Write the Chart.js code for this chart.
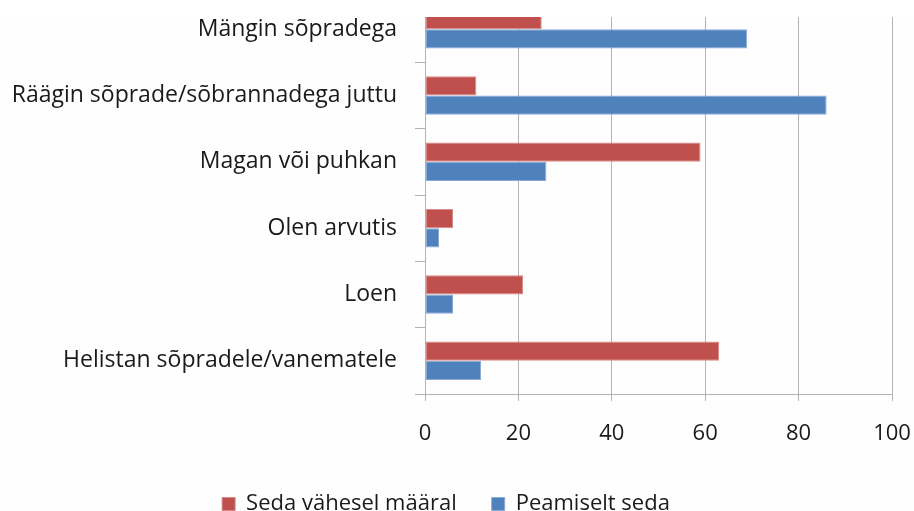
<!DOCTYPE html>
<html>
<head>
<meta charset="utf-8">
<script src="https://cdn.jsdelivr.net/npm/chart.js@4"></script>
<style>
  html, body { margin: 0; padding: 0; width: 914px; height: 511px; overflow: hidden; background: #fefefe; }
  #wrap { position: absolute; left: 0; top: -21px; width: 914px; height: 546px; }
  #topmask { position: absolute; left: 0; top: 0; width: 914px; height: 17px; background: #ffffff; z-index: 2; }
</style>
</head>
<body>
<div id="topmask"></div>
<div id="wrap"><canvas id="c"></canvas></div>
<script>
const categories = [
  "Mängin sõpradega",
  "Räägin sõprade/sõbrannadega juttu",
  "Magan või puhkan",
  "Olen arvutis",
  "Loen",
  "Helistan sõpradele/vanematele"
];
const seriesNames = ["Seda vähesel määral", "Peamiselt seda"];
const vaheselMaaral = [25, 11, 59, 6, 21, 63];
const peamiseltSeda = [69, 86, 26, 3, 6, 12];
const xTicks = [0, 20, 40, 60, 80, 100];

const FONT = "'Open Sans', Lato, sans-serif";
const gridGray = "#b3b3b3";

new Chart(document.getElementById("c"), {
  type: "bar",
  data: {
    labels: categories,
    datasets: [
      { label: seriesNames[0], data: vaheselMaaral, backgroundColor: "#C0504D", borderColor: "#D78A88", borderWidth: 1, borderSkipped: false, categoryPercentage: 0.58, barPercentage: 1.0 },
      { label: seriesNames[1], data: peamiseltSeda, backgroundColor: "#4F81BD", borderColor: "#8AAAD6", borderWidth: 1, borderSkipped: false, categoryPercentage: 0.58, barPercentage: 1.0 }
    ]
  },
  options: {
    indexAxis: "y",
    responsive: true,
    maintainAspectRatio: false,
    animation: false,
    layout: { padding: { top: 17, left: 0, right: 22, bottom: 0 } },
    plugins: {
      tooltip: { enabled: false },
      legend: {
        position: "bottom",
        labels: {
          font: { family: FONT, size: 22 },
          color: "#1a1a1a",
          boxWidth: 13,
          boxHeight: 13,
          padding: 35
        }
      }
    },
    scales: {
      x: {
        min: 0, max: 100,
        afterBuildTicks: (s) => { s.ticks = xTicks.map(v => ({ value: v })); },
        afterFit: (s) => { s.height = 64; s.paddingLeft = 0; s.paddingRight = 0; },
        grid: { color: gridGray, lineWidth: 1, drawTicks: true, tickLength: 7, tickColor: gridGray },
        border: { color: gridGray, width: 1 },
        ticks: { font: { family: FONT, size: 22 }, color: "#1a1a1a", padding: 20 }
      },
      y: {
        afterFit: (s) => { s.width = 425; s.paddingTop = 0; s.paddingBottom = 0; },
        grid: { drawOnChartArea: false, drawTicks: true, tickLength: 10, tickColor: gridGray, offset: true },
        border: { color: gridGray, width: 1 },
        ticks: { font: { family: FONT, size: 23 }, color: "#1a1a1a", padding: 18 }
      }
    }
  }
});
</script>
</body>
</html>
